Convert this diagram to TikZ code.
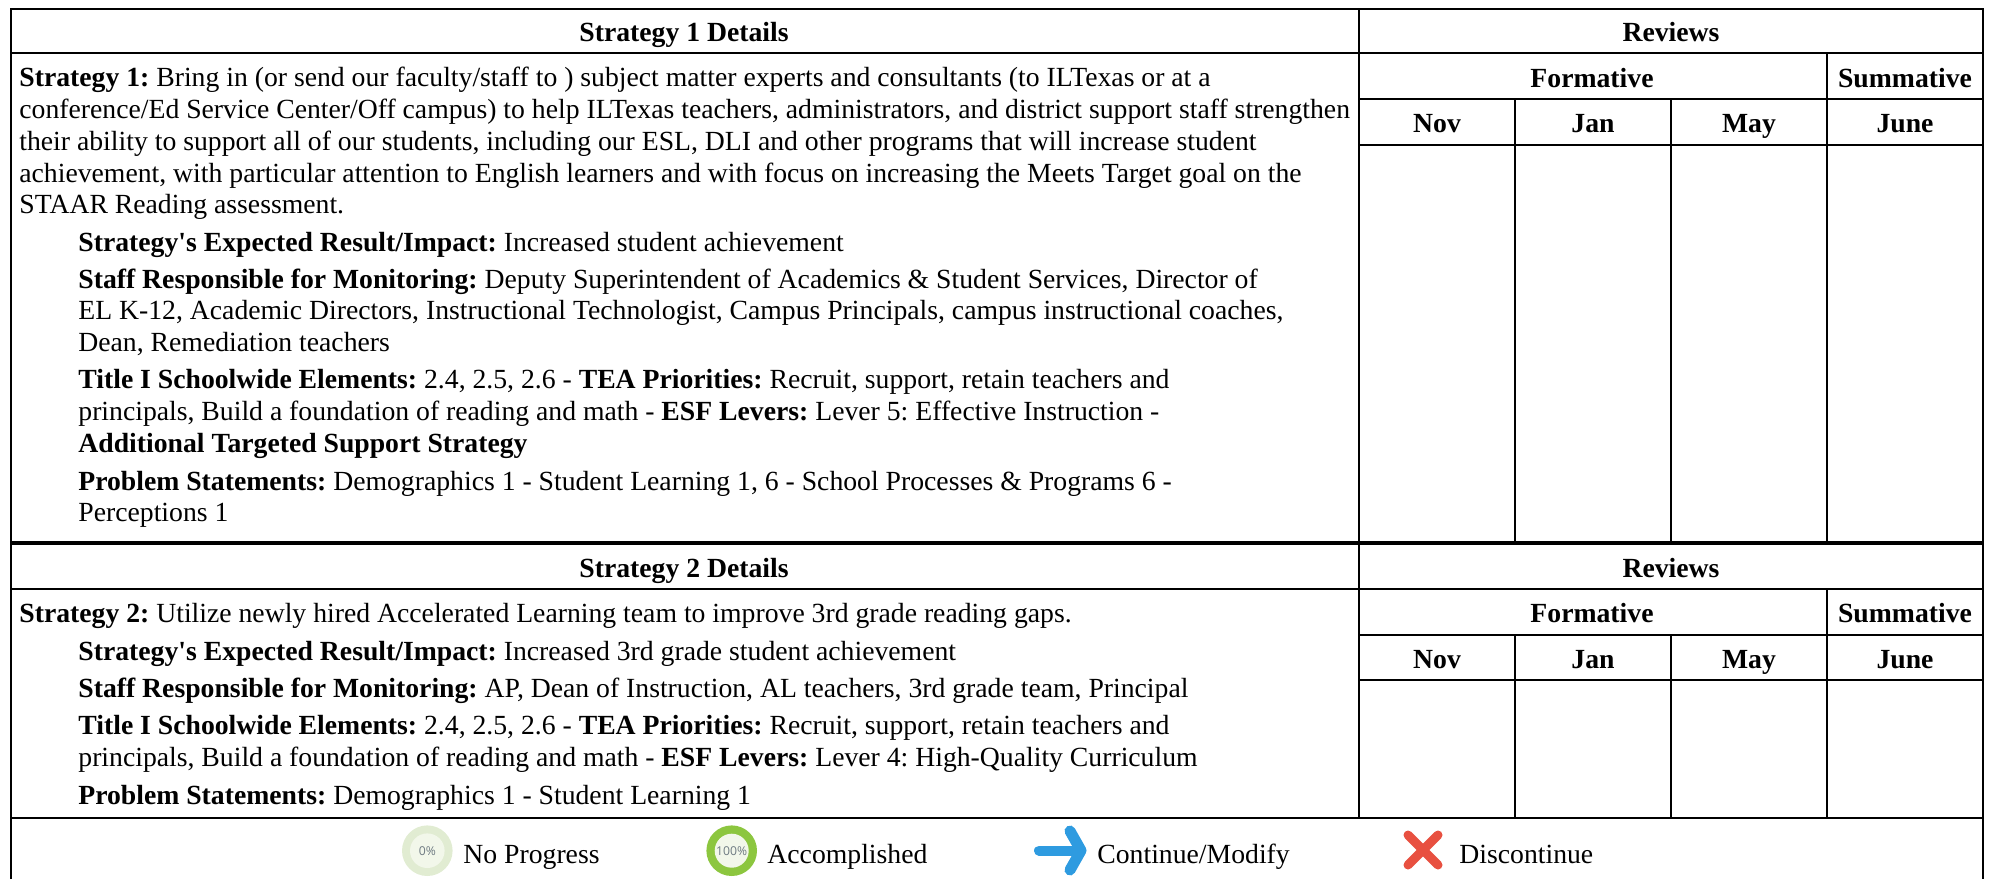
\documentclass[tikz,border=0pt]{standalone}
\usepackage{fontspec}
\setmainfont{Liberation Serif}
\setsansfont{Open Sans}
\definecolor{ringpale}{HTML}{E1ECD2}
\definecolor{corepale}{HTML}{F2F7EA}
\definecolor{ringgreen}{HTML}{8CC63F}
\definecolor{arrowblue}{HTML}{2E9BE0}
\definecolor{crossred}{HTML}{E85040}
\definecolor{pctgray}{HTML}{6E7A82}
\tikzset{
  txt/.style={font=\fontsize{13.85}{16}\selectfont, anchor=base west, inner sep=0pt},
  hd/.style={font=\fontsize{13.85}{16}\selectfont\bfseries, anchor=base, inner sep=0pt},
  rule/.style={line width=1pt, black},
  heavy/.style={line width=2pt, black},
  pct/.style={font=\sffamily\fontsize{6.1}{7}\selectfont, text=pctgray, inner sep=0pt},
}
\begin{document}
\begin{tikzpicture}[x=0.5pt,y=-0.5pt]
\frenchspacing
\useasboundingbox (0,0) rectangle (1993,879);
% frame
\draw[rule] (11,879) -- (11,9) -- (1983,9) -- (1983,879);
\draw[rule] (11,53) -- (1983,53);
\draw[heavy] (11,543) -- (1983,543);
\draw[rule] (11,589) -- (1983,589);
\draw[rule] (11,818) -- (1983,818);
\draw[rule] (1359,9) -- (1359,818);
\foreach \ya in {99,145,635,680} \draw[rule] (1359,\ya) -- (1983,\ya);
\foreach \xa in {1515,1671} {
  \draw[rule] (\xa,99) -- (\xa,543);
  \draw[rule] (\xa,635) -- (\xa,818);
}
\draw[rule] (1827,53) -- (1827,543);
\draw[rule] (1827,589) -- (1827,818);
% block 1 headers
\node[hd] (h1) at (684,41) {Strategy 1 Details};
\node[hd] (r1) at (1671,41) {Reviews};
\node[hd] (f1) at (1592,87) {Formative};
\node[hd] (s1) at (1905,87) {Summative};
\node[hd] (n1) at (1437,132) {Nov};
\node[hd] (j1) at (1593,132) {Jan};
\node[hd] (m1) at (1749,132) {May};
\node[hd] (u1) at (1905,132) {June};
% block 1 text
\node[txt] (a1) at (19,86.5) {\textbf{Strategy 1:} Bring in (or send our faculty/staff to ) subject matter experts and consultants (to ILTexas or at a};
\node[txt] (a2) at (19,118) {conference/Ed Service Center/Off campus) to help ILTexas teachers, administrators, and district support staff strengthen};
\node[txt] (a3) at (19,150) {their ability to support all of our students, including our ESL, DLI and other programs that will increase student};
\node[txt] (a4) at (19,182) {achievement, with particular attention to English learners and with focus on increasing the Meets Target goal on the};
\node[txt] (a5) at (19,213.5) {STAAR Reading assessment.};
\node[txt] (a6) at (78,251) {\textbf{Strategy\textquotesingle s Expected Result/Impact:} Increased student achievement};
\node[txt] (a7) at (78,288) {\textbf{Staff Responsible for Monitoring:} Deputy Superintendent of Academics \& Student Services, Director of};
\node[txt] (a8) at (78,319.5) {EL K-12, Academic Directors, Instructional Technologist, Campus Principals, campus instructional coaches,};
\node[txt] (a9) at (78,351) {Dean, Remediation teachers};
\node[txt] (a10) at (78,388.5) {\textbf{Title I Schoolwide Elements:} 2.4, 2.5, 2.6 - \textbf{TEA Priorities:} Recruit, support, retain teachers and};
\node[txt] (a11) at (78,420) {principals, Build a foundation of reading and math - \textbf{ESF Levers:} Lever 5: Effective Instruction -};
\node[txt] (a12) at (78,452) {\textbf{Additional Targeted Support Strategy}};
\node[txt] (a13) at (78,490) {\textbf{Problem Statements:} Demographics 1 - Student Learning 1, 6 - School Processes \& Programs 6 -};
\node[txt] (a14) at (78,521) {Perceptions 1};
% block 2 headers
\node[hd] (h2) at (684,577) {Strategy 2 Details};
\node[hd] (r2) at (1671,577) {Reviews};
\node[hd] (f2) at (1592,622) {Formative};
\node[hd] (s2) at (1905,622) {Summative};
\node[hd] (n2) at (1437,668) {Nov};
\node[hd] (j2) at (1593,668) {Jan};
\node[hd] (m2) at (1749,668) {May};
\node[hd] (u2) at (1905,668) {June};
% block 2 text
\node[txt] (b1) at (19,622) {\textbf{Strategy 2:} Utilize newly hired Accelerated Learning team to improve 3rd grade reading gaps.};
\node[txt] (b2) at (78,660) {\textbf{Strategy\textquotesingle s Expected Result/Impact:} Increased 3rd grade student achievement};
\node[txt] (b3) at (78,697) {\textbf{Staff Responsible for Monitoring:} AP, Dean of Instruction, AL teachers, 3rd grade team, Principal};
\node[txt] (b4) at (78,734.5) {\textbf{Title I Schoolwide Elements:} 2.4, 2.5, 2.6 - \textbf{TEA Priorities:} Recruit, support, retain teachers and};
\node[txt] (b5) at (78,766) {principals, Build a foundation of reading and math - \textbf{ESF Levers:} Lever 4: High-Quality Curriculum};
\node[txt] (b6) at (78,804) {\textbf{Problem Statements:} Demographics 1 - Student Learning 1};
% legend
\fill[ringpale] (427.3,850.7) circle (25.3);
\fill[corepale] (427.3,850.7) circle (17.3);
\node[pct] (p0) at (427.3,850.7) {0\%};
\node[txt] (l1) at (463,863) {No Progress};
\fill[ringgreen] (731.7,850.7) circle (25.3);
\fill[corepale] (731.7,850.7) circle (17);
\node[pct] (p100) at (731.7,850.7) {100\%};
\node[txt] (l2) at (767,863) {Accomplished};
\draw[arrowblue, line width=5pt, line cap=round] (1039,850.5) -- (1078,850.5);
\draw[arrowblue, line width=5.5pt, line cap=round, line join=round] (1070,831) -- (1081,850.5) -- (1070,870);
\node[txt] (l3) at (1097,863) {Continue/Modify};
\draw[crossred, line width=4.5pt, line cap=round] (1408,835) -- (1438,865);
\draw[crossred, line width=4.5pt, line cap=round] (1438,835) -- (1408,865);
\node[txt] (l4) at (1459,863) {Discontinue};
\end{tikzpicture}
\end{document}
